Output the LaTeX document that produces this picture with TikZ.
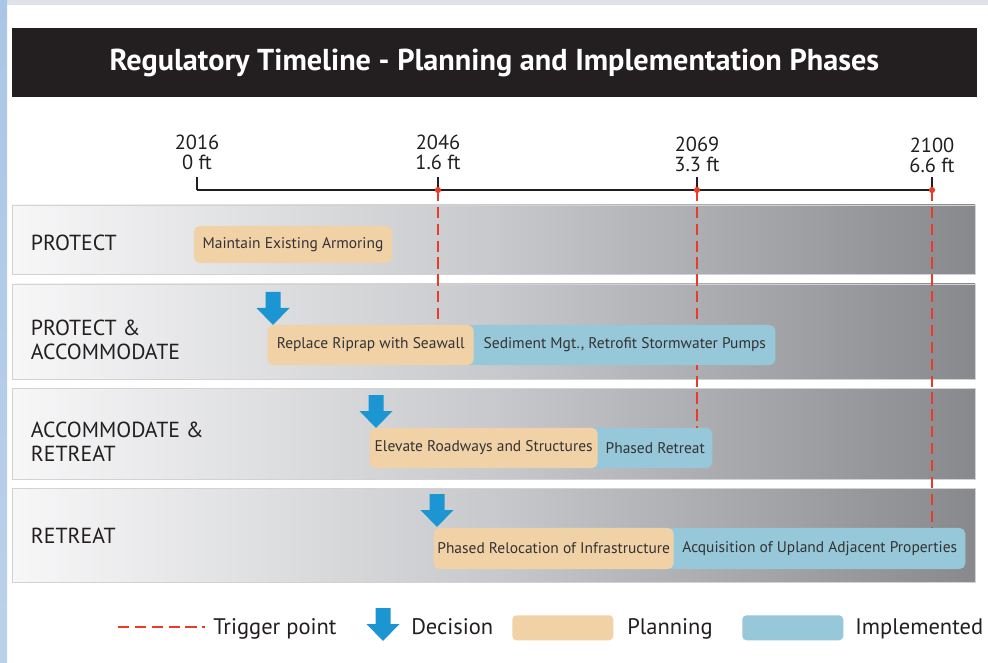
\documentclass[tikz,border=0pt]{standalone}
\usepackage{fontspec}
\setmainfont{PT Sans}
\usepackage{xcolor}
\usepackage{tikz}
\usetikzlibrary{calc}

\definecolor{TitleBlack}{RGB}{35,31,32}
\definecolor{PlanTan}{RGB}{241,209,166}
\definecolor{ImplBlue}{RGB}{150,200,217}
\definecolor{DecBlue}{RGB}{28,150,210}
\definecolor{TrigRed}{RGB}{232,60,40}
\definecolor{RowLight}{RGB}{247,247,248}
\definecolor{RowMid}{RGB}{200,201,204}
\definecolor{RowDark}{RGB}{136,137,140}
\definecolor{SideBlue}{RGB}{170,198,230}
\definecolor{TopGray}{RGB}{222,227,233}

\begin{document}
\begin{tikzpicture}[ x = 0.025cm, y = -0.025cm ]
        \tikzset{TitleStyle/.style={fill=TitleBlack, text=white, font=\fontsize{21.5}{23}\selectfont\bfseries},
                 AxisStyle/.style={line width=1.9pt, TitleBlack},
                 YearStyle/.style={align=center, inner sep=0pt, text=TitleBlack, font=\fontsize{14.5}{14}\selectfont},
                 RowStyle/.style={draw=gray!35, line width=0.4pt, left color=RowLight, right color=RowDark, middle color=RowMid},
                 RowLabel/.style={anchor=west, align=left, text=TitleBlack, font=\fontsize{15.5}{17}\selectfont},
                 Trigger/.style={TrigRed, line width=1.7pt, dash pattern=on 8pt off 4pt},
                 BarStyle/.style={rounded corners=4pt, inner xsep=2pt, text=black!80, font=\fontsize{11}{12}\selectfont},
                 PlanStyle/.style={BarStyle, fill=PlanTan},
                 ImplStyle/.style={BarStyle, fill=ImplBlue},
                 LegendText/.style={anchor=base west, inner sep=0pt, text=TitleBlack, font=\fontsize{16}{18}\selectfont},
                 decision/.pic={\fill[DecBlue] (-7.5,-33) -- (7.5,-33) -- (7.5,-17) -- (16.5,-17) -- (0,0)
                                -- (-16.5,-17) -- (-7.5,-17) -- cycle;}}

        % page and frame
        \useasboundingbox (0,0) rectangle (988,663);
        \fill[white] (0,0) rectangle (988,663);
        \fill[TopGray] (0,0) rectangle (988,5);
        \shade[top color=SideBlue, bottom color=SideBlue!80] (0,0) rectangle (7,663);

        % title
        \node[TitleStyle, anchor=north west, minimum width=24.1cm, minimum height=1.725cm] (T) at (12,28)
             {Regulatory Timeline - Planning and Implementation Phases};

        % time axis
        \coordinate (Y0) at (197,190);
        \coordinate (Y1) at (438,190);
        \coordinate (Y2) at (697,190);
        \coordinate (Y3) at (932,190);
        \draw[AxisStyle] (Y0) -- (Y3);
        \foreach \c in {Y0,Y1,Y2,Y3}
            \draw[AxisStyle] (\c) -- ++(0,-13);

        \node[YearStyle, anchor=south] (L0) at (197,170) {2016\\0 ft};
        \node[YearStyle, anchor=south] (L1) at (438,170) {2046\\1.6 ft};
        \node[YearStyle, anchor=south] (L2) at (697,172) {2069\\3.3 ft};
        \node[YearStyle, anchor=south] (L3) at (932,173) {2100\\6.6 ft};

        % strategy rows
        \draw[RowStyle] (12,205) rectangle (975,274);
        \draw[RowStyle] (12,284) rectangle (975,379);
        \draw[RowStyle] (12,388) rectangle (975,479);
        \draw[RowStyle] (12,488) rectangle (975,582);

        \node[RowLabel] (N1) at (26,243) {PROTECT};
        \node[RowLabel] (N2) at (26,340) {PROTECT \&\\ACCOMMODATE};
        \node[RowLabel] (N3) at (26,442) {ACCOMMODATE \&\\RETREAT};
        \node[RowLabel] (N4) at (26,536) {RETREAT};

        % trigger points
        \coordinate (E1) at (438,325);
        \coordinate (E2) at (697,428);
        \coordinate (E3) at (932,528);
        \draw[Trigger] (Y1) -- (E1);
        \draw[Trigger] (Y2) -- (E2);
        \draw[Trigger] (Y3) -- (E3);
        \foreach \c in {Y1,Y2,Y3}
            \fill[TrigRed] (\c) circle (2.2pt);

        % bars
        \node[PlanStyle, minimum width=4.95cm, minimum height=0.925cm] (P1) at (293,244.5) {Maintain Existing Armoring};

        \node[ImplStyle, anchor=west, minimum width=7.525cm, minimum height=1cm] (I2) at (474,345)
             {Sediment Mgt., Retrofit Stormwater Pumps};
        \fill[ImplBlue] ($(I2.north west)+(-12,0)$) rectangle ($(I2.south west)+(8,0)$);
        \node[PlanStyle, anchor=east, minimum width=5.15cm, minimum height=1cm] (P2) at (474,345)
             {Replace Riprap with Seawall};

        \node[ImplStyle, anchor=west, minimum width=2.85cm, minimum height=1cm] (I3) at (598,448) {Phased Retreat};
        \fill[ImplBlue] ($(I3.north west)+(-12,0)$) rectangle ($(I3.south west)+(8,0)$);
        \node[PlanStyle, anchor=east, minimum width=5.7cm, minimum height=1cm] (P3) at (598,448)
             {Elevate Roadways and Structures};

        \node[ImplStyle, anchor=west, minimum width=7.275cm, minimum height=1.025cm] (I4) at (674,548.5)
             {Acquisition of Upland Adjacent Properties};
        \fill[ImplBlue] ($(I4.north west)+(-12,0)$) rectangle ($(I4.south west)+(8,0)$);
        \node[PlanStyle, anchor=east, minimum width=6cm, minimum height=1.025cm] (P4) at (674,548.5)
             {Phased Relocation of Infrastructure};

        % decisions
        \pic at (273,325) {decision};
        \pic at (376,428) {decision};
        \pic at (437,527) {decision};

        % legend
        \coordinate (G0) at (118,627);
        \coordinate (G1) at (205,627);
        \draw[Trigger] (G0) -- (G1);
        \node[LegendText] (G2) at (213,634) {Trigger point};
        \pic at (383,641) {decision};
        \node[LegendText] (G3) at (411,634) {Decision};
        \node[PlanStyle, rounded corners=3pt, anchor=north west, minimum width=2.525cm, minimum height=0.625cm] (G4) at (512,615) {};
        \node[LegendText] (G5) at (627,634) {Planning};
        \node[ImplStyle, rounded corners=3pt, anchor=north west, minimum width=2.525cm, minimum height=0.625cm] (G6) at (742,615) {};
        \node[LegendText] (G7) at (855,634) {Implemented};

      \end{tikzpicture}
\end{document}
